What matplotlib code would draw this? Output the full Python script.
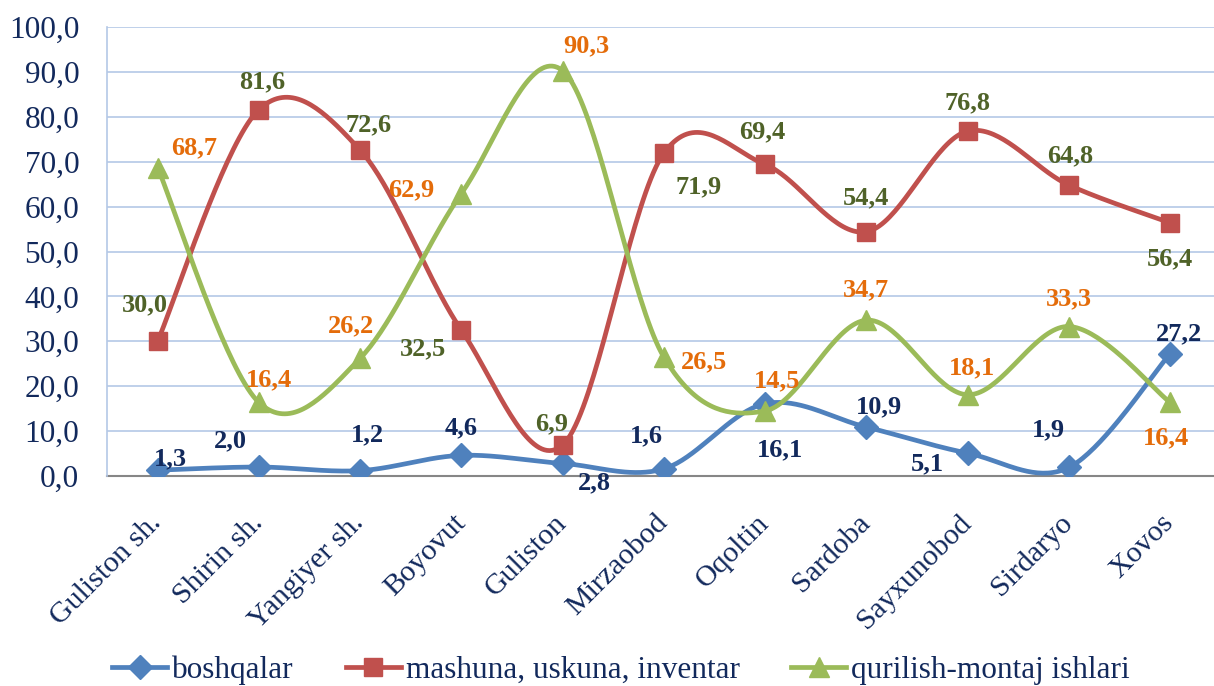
import numpy as np
import matplotlib
matplotlib.use("Agg")
import matplotlib.pyplot as plt
from matplotlib.ticker import FuncFormatter

districts = ["Guliston sh.", "Shirin sh.", "Yangiyer sh.", "Boyovut", "Guliston",
             "Mirzaobod", "Oqoltin", "Sardoba", "Sayxunobod", "Sirdaryo", "Xovos"]
boshqalar = [1.3, 2.0, 1.2, 4.6, 2.8, 1.6, 16.1, 10.9, 5.1, 1.9, 27.2]
mashuna = [30.0, 81.6, 72.6, 32.5, 6.9, 71.9, 69.4, 54.4, 76.8, 64.8, 56.4]
qurilish = [68.7, 16.4, 26.2, 62.9, 90.3, 26.5, 14.5, 34.7, 18.1, 33.3, 16.4]
series_names = ["boshqalar", "mashuna, uskuna, inventar", "qurilish-montaj ishlari"]

# label offsets in pixels (dx, dy)
off_b = [(13, 11), (-28, 26), (7, 36), (0, 28), (32, -19), (-17, 33),
         (15, -46), (13, 20), (-40, -11), (-20, 38), (9, 20)]
off_m = [(-13, 37), (3, 28), (8, 25), (-38, -19), (-11, 21), (35, -34),
         (-3, 33), (0, 34), (0, 28), (1, 29), (0, -36)]
off_q = [(37, 20), (10, 23), (-9, 33), (-50, 4), (24, 25), (40, -5),
         (12, 30), (0, 30), (4, 27), (0, 28), (-4, -35)]


def smooth(y, n=40):
    # excel-like smoothed line (catmull-rom as cubic bezier)
    x = np.arange(len(y), dtype=float)
    y = np.asarray(y, dtype=float)
    px = np.concatenate([[x[0]], x, [x[-1]]])
    py = np.concatenate([[y[0]], y, [y[-1]]])
    t = np.linspace(0, 1, n)[:, None]
    xs, ys = [], []
    for i in range(1, len(px) - 2):
        p0 = np.array([px[i], py[i]])
        p3 = np.array([px[i + 1], py[i + 1]])
        c1 = p0 + (np.array([px[i + 1], py[i + 1]]) - np.array([px[i - 1], py[i - 1]])) / 6
        c2 = p3 - (np.array([px[i + 2], py[i + 2]]) - np.array([px[i], py[i]])) / 6
        pts = (1 - t) ** 3 * p0 + 3 * (1 - t) ** 2 * t * c1 + 3 * (1 - t) * t ** 2 * c2 + t ** 3 * p3
        xs.extend(pts[:, 0])
        ys.extend(pts[:, 1])
    return xs, ys


plt.rcParams["font.family"] = ["Liberation Serif", "DejaVu Serif"]
navy = "#12295C"

fig = plt.figure(figsize=(12.14, 6.86), dpi=100)
ax = fig.add_axes([0.0881, 0.3061, 0.9174, 0.6545])

x = np.arange(len(districts))
styles = [
    (boshqalar, "#4F81BD", "D", 12, navy, off_b),
    (mashuna, "#C0504D", "s", 13, "#4F6228", off_m),
    (qurilish, "#9BBB59", "^", 15, "#E46C0A", off_q),
]
for k, (vals, col, mk, ms, tcol, offs) in enumerate(styles):
    sx, sy = smooth(vals)
    ax.plot(sx, sy, color=col, lw=3.4, zorder=3 + k, solid_capstyle="round")
    ax.plot(x, vals, linestyle="none", marker=mk, ms=ms, color=col, zorder=3 + k)
    # legend handle
    ax.plot([], [], color=col, lw=3.4, marker=mk, ms=ms, label=series_names[k])
    for i, v in enumerate(vals):
        ax.annotate(f"{v:.1f}".replace(".", ","), (x[i], v), xytext=offs[i],
                    textcoords="offset pixels", ha="center", va="center",
                    fontsize=19, fontweight="bold", color=tcol, zorder=10)

ax.set_xlim(-0.5, len(districts) - 0.5)
ax.set_ylim(0, 100)
ax.set_yticks(np.arange(0, 101, 10))
ax.yaxis.set_major_formatter(FuncFormatter(lambda v, p: f"{v:.1f}".replace(".", ",")))
ax.grid(axis="y", color="#B4C8E6", lw=1.2)
ax.set_axisbelow(True)
ax.set_xticks(x)
ax.set_xticklabels(districts, rotation=45, ha="right", va="center", rotation_mode="anchor")
ax.tick_params(axis="x", length=0, pad=31, labelsize=21.5, labelcolor=navy)
ax.tick_params(axis="y", length=0, pad=20, labelsize=22.5, labelcolor=navy)
for s in ["top", "right"]:
    ax.spines[s].set_visible(False)
ax.spines["left"].set_color("#B4C8E6")
ax.spines["left"].set_linewidth(1.2)
ax.spines["bottom"].set_color("#868686")
ax.spines["bottom"].set_linewidth(1.5)
ax.spines["bottom"].set_zorder(2)

fig.legend(loc="center left", bbox_to_anchor=(0.0923, 0.0233), ncol=3, frameon=False,
           fontsize=22.5, labelcolor=navy, handlelength=1.76, handletextpad=0.16,
           columnspacing=1.66, numpoints=1, borderpad=0, borderaxespad=0)

fig.savefig("out.png", dpi=100)
